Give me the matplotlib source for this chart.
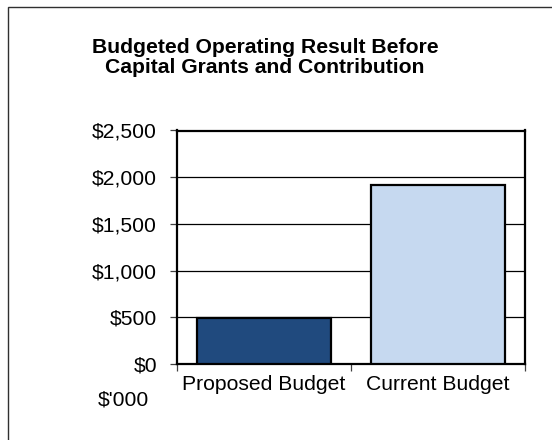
import matplotlib
matplotlib.use("Agg")
import matplotlib.pyplot as plt
from matplotlib.patches import Rectangle
from matplotlib.ticker import FuncFormatter, FixedLocator

categories = ["Proposed Budget", "Current Budget"]
values = [495, 1920]
bar_colors = ["#204A7E", "#C6D9F0"]
y_ticks = [0, 500, 1000, 1500, 2000, 2500]
title = "Budgeted Operating Result Before\nCapital Grants and Contribution"
unit_label = "$'000"

plt.rcParams['font.family'] = ['Liberation Sans', 'DejaVu Sans']

W, H = 552, 440
fig = plt.figure(figsize=(W / 100, H / 100), dpi=100)
fig.patch.set_facecolor("white")

# outer border (left/top visible, extends beyond the image on right/bottom)
fig.patches.append(Rectangle((7.5 / W, -0.05), 1.1, 1 - 7.5 / H + 0.05,
                             transform=fig.transFigure, fill=False,
                             edgecolor="#303030", linewidth=1.0))

ax = fig.add_axes([176.5 / W, (H - 364) / H, 348.5 / W, 233.5 / H])
x = list(range(len(categories)))
ax.bar(x, values, width=0.77, color=bar_colors, edgecolor="black",
       linewidth=1.6, zorder=3)

ax.set_xlim(-0.5, len(categories) - 0.5)
ax.set_ylim(0, 2500)
ax.set_yticks(y_ticks)
ax.yaxis.set_major_formatter(FuncFormatter(lambda v, p: f"${v:,.0f}"))
ax.grid(axis="y", color="black", linewidth=0.9, zorder=0)
ax.set_axisbelow(True)

ax.set_xticks(x)
ax.set_xticklabels(categories)
ax.xaxis.set_minor_locator(FixedLocator([-0.5, 0.5, 1.5]))
ax.tick_params(axis="x", which="major", length=0, pad=8, labelsize=15.2)
ax.tick_params(axis="x", which="minor", length=5, width=0.9, color="#404040")
ax.tick_params(axis="y", length=5, width=0.9, color="#404040", pad=9, labelsize=15.2)

for s in ax.spines.values():
    s.set_linewidth(1.6)
    s.set_color("black")

fig.text(265 / W, 1 - 57.5 / H, title, ha="center", va="center",
         fontsize=15.2, fontweight="bold", linespacing=1.12)
fig.text(123 / W, 1 - 400 / H, unit_label, ha="center", va="center", fontsize=15.2)

fig.savefig("out.png", dpi=100)
